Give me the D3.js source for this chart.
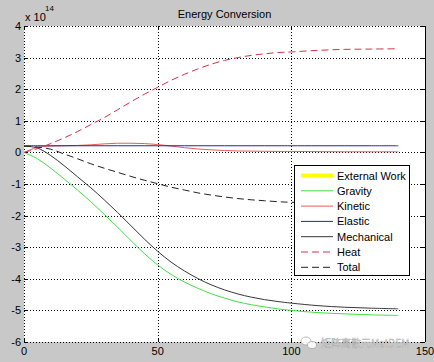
<!DOCTYPE html>
<html>
<head>
<meta charset="utf-8">
<script src="https://cdn.jsdelivr.net/npm/d3@7"></script>
<style>
  html, body { margin: 0; padding: 0; background: #c8c8c8; }
  svg { display: block; font-family: "Liberation Sans", Arial, sans-serif; }
</style>
</head>
<body>
<svg id="chart" width="434" height="362"></svg>
<script>
// time steps and energies (units of 1e14)
const steps = [0, 5, 10, 15, 20, 25, 30, 35, 40, 45, 50, 55, 60, 65, 70, 75, 80, 85, 90, 95, 100, 110, 120, 130, 140];
const gravity = [0, -0.2, -0.5, -0.84, -1.19, -1.56, -1.96, -2.37, -2.79, -3.2, -3.56, -3.86, -4.1, -4.3, -4.47, -4.61, -4.73, -4.82, -4.89, -4.95, -5.0, -5.07, -5.11, -5.14, -5.16];
const kinetic = [0, 0.16, 0.2, 0.21, 0.22, 0.24, 0.27, 0.29, 0.29, 0.28, 0.25, 0.2, 0.15, 0.11, 0.08, 0.06, 0.045, 0.04, 0.035, 0.03, 0.03, 0.025, 0.02, 0.02, 0.02];
const elastic = [0.21, 0.21, 0.21, 0.21, 0.21, 0.21, 0.21, 0.21, 0.21, 0.21, 0.21, 0.21, 0.21, 0.21, 0.21, 0.21, 0.21, 0.21, 0.21, 0.21, 0.21, 0.21, 0.21, 0.21, 0.21];
const mechanical = [0.2, 0.14, -0.1, -0.42, -0.77, -1.12, -1.5, -1.9, -2.32, -2.74, -3.13, -3.47, -3.75, -3.99, -4.19, -4.35, -4.48, -4.58, -4.66, -4.72, -4.77, -4.85, -4.9, -4.93, -4.95];
const heat = [0, 0.12, 0.28, 0.46, 0.66, 0.88, 1.1, 1.35, 1.6, 1.84, 2.06, 2.28, 2.47, 2.64, 2.79, 2.91, 3.0, 3.07, 3.12, 3.16, 3.18, 3.23, 3.26, 3.27, 3.28];
const total = [0.2, 0.17, 0.1, -0.05, -0.2, -0.36, -0.5, -0.63, -0.76, -0.88, -0.99, -1.1, -1.19, -1.28, -1.35, -1.41, -1.46, -1.5, -1.53, -1.56, -1.58, -1.61, -1.63, -1.64, -1.65];
const externalWork = []; // nothing drawn in the plot

const xTicks = [0, 50, 100, 150];
const yTicks = [-6, -5, -4, -3, -2, -1, 0, 1, 2, 3, 4];

const series = [
  { name: "External Work", values: externalWork, color: "#ffff00", width: 4, dash: null },
  { name: "Gravity", values: gravity, color: "#44e044", width: 1, dash: null },
  { name: "Kinetic", values: kinetic, color: "#ea5a5a", width: 1, dash: null },
  { name: "Elastic", values: elastic, color: "#2222b4", width: 1, dash: null },
  { name: "Mechanical", values: mechanical, color: "#383838", width: 1, dash: null },
  { name: "Heat", values: heat, color: "#d8304a", width: 1, dash: "7,4" },
  { name: "Total", values: total, color: "#222222", width: 1, dash: "7,4" }
];

const svg = d3.select("#chart");
const pLeft = 24, pRight = 425, pTop = 26, pBottom = 342;

const x = d3.scaleLinear().domain([0, 150]).range([pLeft, pRight]);
const y = d3.scaleLinear().domain([-6, 4]).range([pBottom, pTop]);

// axes background
svg.append("rect")
  .attr("x", pLeft).attr("y", pTop)
  .attr("width", pRight - pLeft).attr("height", pBottom - pTop)
  .attr("fill", "#ffffff");

// dotted grid
const grid = svg.append("g").attr("stroke", "#000").attr("stroke-width", 1).attr("stroke-dasharray", "1,2");
grid.selectAll(".gx").data(xTicks).join("line")
  .attr("x1", d => Math.round(x(d)) + 0.5).attr("x2", d => Math.round(x(d)) + 0.5)
  .attr("y1", pTop).attr("y2", pBottom);
grid.selectAll(".gy").data(yTicks).join("line")
  .attr("x1", pLeft).attr("x2", pRight)
  .attr("y1", d => Math.round(y(d)) + 0.5).attr("y2", d => Math.round(y(d)) + 0.5);

// right border solid
svg.append("line")
  .attr("x1", pRight + 0.5).attr("x2", pRight + 0.5)
  .attr("y1", pTop).attr("y2", pBottom)
  .attr("stroke", "#000");

// inward ticks on all sides
const ticks = svg.append("g").attr("stroke", "#000");
ticks.selectAll(".tl").data(yTicks).join("line")
  .attr("x1", pLeft).attr("x2", pLeft + 4)
  .attr("y1", d => Math.round(y(d)) + 0.5).attr("y2", d => Math.round(y(d)) + 0.5);
ticks.selectAll(".tr").data(yTicks).join("line")
  .attr("x1", pRight - 4).attr("x2", pRight)
  .attr("y1", d => Math.round(y(d)) + 0.5).attr("y2", d => Math.round(y(d)) + 0.5);
ticks.selectAll(".tb").data(xTicks).join("line")
  .attr("x1", d => Math.round(x(d)) + 0.5).attr("x2", d => Math.round(x(d)) + 0.5)
  .attr("y1", pBottom - 4).attr("y2", pBottom);
ticks.selectAll(".tt").data(xTicks).join("line")
  .attr("x1", d => Math.round(x(d)) + 0.5).attr("x2", d => Math.round(x(d)) + 0.5)
  .attr("y1", pTop).attr("y2", pTop + 4);

// tick labels
svg.append("g").selectAll("text").data(yTicks).join("text")
  .attr("x", 21).attr("y", d => y(d) + 4)
  .attr("text-anchor", "end")
  .attr("font-size", 11)
  .attr("fill", "#000")
  .text(d => d);
svg.append("g").selectAll("text").data(xTicks).join("text")
  .attr("x", d => x(d)).attr("y", 355)
  .attr("text-anchor", "middle")
  .attr("font-size", 11)
  .attr("fill", "#000")
  .text(d => d);

// exponent label
svg.append("text").attr("x", 25).attr("y", 21).attr("font-size", 11).text("x 10");
svg.append("text").attr("x", 45).attr("y", 11).attr("font-size", 8).text("14");

// title
svg.append("text")
  .attr("x", (pLeft + pRight) / 2).attr("y", 18)
  .attr("text-anchor", "middle")
  .attr("font-size", 11)
  .text("Energy Conversion");

// lines
const line = d3.line()
  .x((d, i) => x(steps[i]))
  .y(d => y(d))
  .curve(d3.curveCatmullRom.alpha(0.5));

const lines = svg.append("g");
series.filter(s => s.values.length > 0).forEach(s => {
  lines.append("path")
    .attr("d", line(s.values))
    .attr("fill", "none")
    .attr("stroke", s.color)
    .attr("stroke-width", s.width)
    .attr("stroke-dasharray", s.dash);
});

// legend
const legend = svg.append("g").attr("transform", "translate(294,165)");
legend.append("rect")
  .attr("x", 0.5).attr("y", 0.5)
  .attr("width", 115).attr("height", 110)
  .attr("fill", "#fff")
  .attr("stroke", "#000");
series.forEach((s, i) => {
  const ly = 10.5 + i * 15.3;
  legend.append("line")
    .attr("x1", 7).attr("x2", 39)
    .attr("y1", ly).attr("y2", ly)
    .attr("stroke", s.color)
    .attr("stroke-width", s.width)
    .attr("stroke-dasharray", s.dash);
  legend.append("text")
    .attr("x", 43).attr("y", ly + 4)
    .attr("font-size", 11)
    .attr("fill", "#000")
    .text(s.name);
});

// watermark
const wm = svg.append("g").attr("opacity", 0.9);
wm.append("ellipse").attr("cx", 306).attr("cy", 341).attr("rx", 5).attr("ry", 4)
  .attr("fill", "#fff").attr("stroke", "#999").attr("stroke-width", 0.7);
wm.append("ellipse").attr("cx", 312).attr("cy", 345).attr("rx", 4.5).attr("ry", 3.5)
  .attr("fill", "#fff").attr("stroke", "#999").attr("stroke-width", 0.7);
wm.append("text")
  .attr("x", 321).attr("y", 347)
  .attr("font-size", 10)
  .attr("font-family", "'Noto Sans CJK SC', sans-serif")
  .attr("fill", "#fff")
  .attr("stroke", "#aaa")
  .attr("stroke-width", 0.5)
  .text("矩阵离散元MatDEM");
</script>
</body>
</html>
